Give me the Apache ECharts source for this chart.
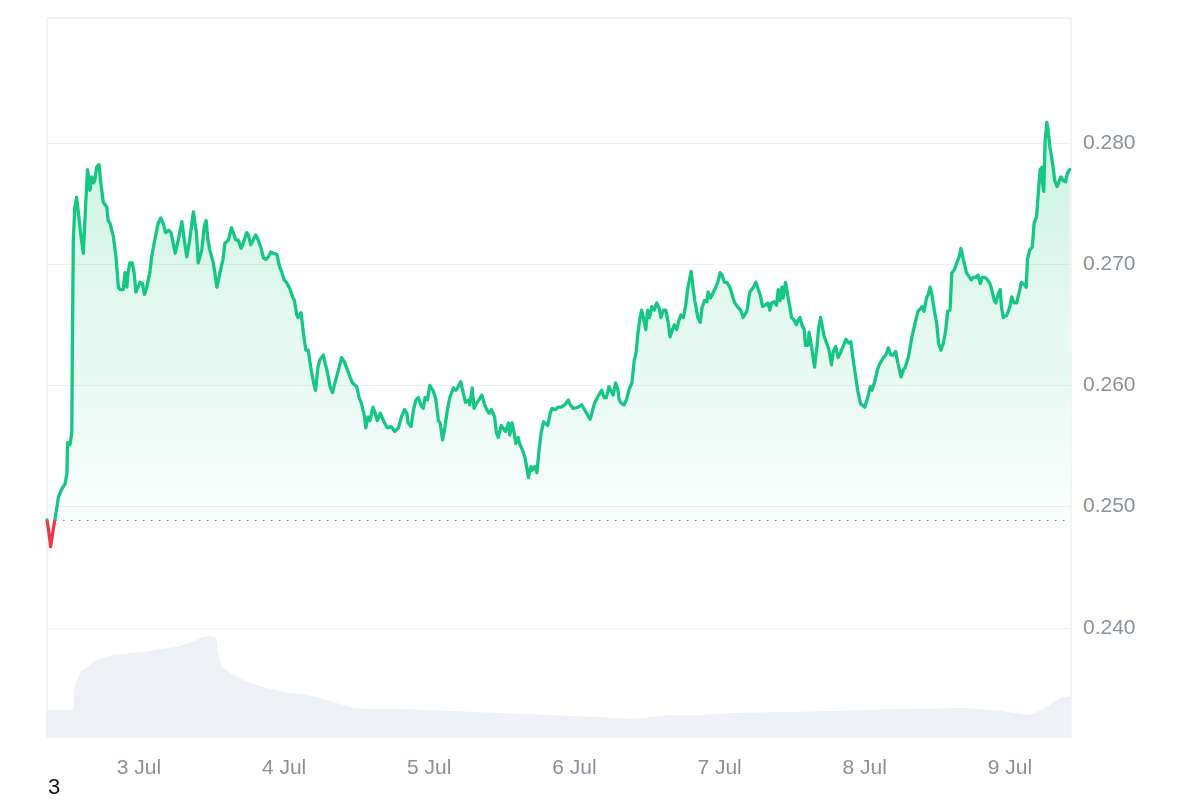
<!DOCTYPE html>
<html><head><meta charset="utf-8">
<script src="https://cdn.jsdelivr.net/npm/echarts@6/dist/echarts.min.js"></script>
<style>html,body{margin:0;padding:0;background:#fff}#c{width:1200px;height:800px}</style>
</head><body><div id="c"></div>
<script>
// hours after 2 Jul 08:48
const hours = [0,0.25,0.6,0.9,1.3,1.9,2.4,3.0,3.3,3.4,3.8,4.1,4.2,4.35,4.6,4.9,5.2,5.5,6.0,6.3,6.6,6.7,7.1,7.4,7.7,7.9,8.2,8.6,8.9,9.3,9.9,10.1,10.4,11.0,11.4,11.8,12.1,12.6,12.9,13.2,13.4,13.7,14.1,14.4,14.7,15.0,15.4,15.8,16.1,16.5,17.0,17.3,17.9,18.4,18.8,19.2,19.6,20.1,20.5,21.2,21.7,22.3,22.7,23.1,23.6,24.2,24.5,24.7,25.0,25.6,26.0,26.3,26.6,26.9,27.5,28.1,28.6,29.1,29.4,30.0,30.5,30.8,31.2,31.6,32.1,32.5,33.0,33.3,33.7,34.1,34.5,34.9,35.4,35.8,36.2,36.6,37.0,37.4,38.0,38.5,38.8,39.2,39.6,40.2,40.6,40.9,41.3,41.5,42.0,42.4,42.8,43.2,43.6,44.0,44.4,44.8,45.1,45.7,46.0,46.4,46.8,47.2,47.6,48.2,48.7,49.2,49.5,50.1,50.5,50.8,51.2,51.6,52.0,52.5,52.7,53.1,53.4,53.9,54.2,54.6,55.1,55.3,55.8,56.3,56.9,57.5,58.1,58.6,59.1,59.5,59.7,60.2,60.6,61.0,61.4,61.8,62.2,62.5,62.9,63.3,63.9,64.3,64.7,65.0,65.4,65.8,66.2,66.6,67.2,67.6,68.0,68.4,68.8,69.2,69.7,69.9,70.3,70.6,71.0,71.4,71.9,72.3,72.7,73.1,73.5,74.0,74.3,74.6,75.1,75.4,75.8,76.3,76.5,76.9,77.3,77.5,77.9,78.2,78.6,79.0,79.3,79.6,80.0,80.2,80.6,81.0,81.3,81.7,82.1,82.3,82.8,83.2,83.5,84.0,84.5,85.0,85.6,86.2,86.5,87.0,87.8,88.4,89.1,89.8,90.5,91.0,91.7,92.1,92.5,92.9,93.2,93.6,94.0,94.4,94.6,95.0,95.4,95.8,96.2,96.7,97.1,97.4,97.7,98.0,98.3,98.6,99.0,99.3,99.6,100.0,100.4,100.8,101.2,101.5,101.9,102.3,102.7,103.0,103.4,103.7,104.1,104.5,104.8,105.2,105.6,105.9,106.2,106.5,106.8,107.1,107.6,108.0,108.3,108.7,109.1,109.3,109.7,110.0,110.4,110.9,111.3,111.6,112.0,112.4,112.9,113.2,113.7,114.3,114.7,115.1,115.7,116.2,116.8,117.2,117.6,118.0,118.3,118.7,119.2,119.5,119.8,120.2,120.6,120.9,121.2,121.5,121.7,122.1,122.5,122.8,123.1,123.5,123.9,124.2,124.5,124.8,125.2,125.4,125.8,126.0,126.4,126.9,127.3,127.6,127.9,128.2,128.5,128.9,129.3,129.7,130.0,130.4,130.8,131.2,131.6,132.1,132.5,132.9,133.3,133.7,134.1,134.5,134.8,135.2,135.7,136.1,136.4,136.9,137.3,137.7,138.3,138.7,139.1,139.5,139.9,140.3,140.7,141.2,141.6,141.9,142.4,143.0,143.5,144.0,144.3,144.7,145.0,145.4,145.7,146.0,146.3,146.7,147.1,147.4,147.8,148.2,148.6,148.9,149.3,149.6,150.0,150.4,150.8,151.1,151.5,151.8,152.0,152.3,152.8,153.1,153.5,153.9,154.3,154.6,155.1,155.5,155.9,156.2,156.6,156.9,157.3,157.6,157.8,158.1,158.7,159.2,159.5,159.9,160.3,160.7,161.1,161.6,161.9,162.1,162.5,162.9,163.2,163.6,163.9,164.2,164.5,164.6,164.8,165.0,165.3,165.5,165.8,166.1,166.4,166.6,167.0,167.4,167.6,168.0,168.4,168.7,169.1];
const prices = [0.2489,0.2481,0.2467,0.2477,0.2489,0.2508,0.2514,0.2519,0.2528,0.2553,0.2551,0.2561,0.2638,0.2720,0.2747,0.2755,0.2742,0.2728,0.2709,0.2739,0.2769,0.2778,0.2761,0.2772,0.2767,0.2769,0.2780,0.2782,0.2767,0.2751,0.2747,0.2736,0.2734,0.2722,0.2706,0.2681,0.2679,0.2679,0.2693,0.2681,0.2693,0.2701,0.2701,0.2693,0.2677,0.2677,0.2685,0.2684,0.2675,0.2681,0.2693,0.2706,0.2722,0.2734,0.2738,0.2734,0.2726,0.2728,0.2726,0.2709,0.2720,0.2735,0.2720,0.2706,0.2720,0.2743,0.2742,0.2726,0.2701,0.2712,0.2731,0.2736,0.2720,0.2712,0.2701,0.2681,0.2693,0.2704,0.2717,0.2720,0.2730,0.2726,0.2720,0.2720,0.2713,0.2718,0.2726,0.2724,0.2716,0.2720,0.2724,0.2720,0.2713,0.2705,0.2704,0.2706,0.2710,0.2709,0.2708,0.2697,0.2694,0.2687,0.2685,0.2679,0.2673,0.2670,0.2658,0.2656,0.2660,0.2643,0.2629,0.2629,0.2615,0.2604,0.2596,0.2615,0.2621,0.2625,0.2618,0.2610,0.2599,0.2594,0.2602,0.2613,0.2623,0.2619,0.2615,0.2607,0.2602,0.2603,0.2599,0.2590,0.2585,0.2574,0.2565,0.2574,0.2571,0.2582,0.2578,0.2571,0.2577,0.2578,0.2569,0.2565,0.2566,0.2562,0.2565,0.2574,0.2580,0.2577,0.2569,0.2566,0.2580,0.2588,0.2590,0.2584,0.2581,0.2590,0.2588,0.2600,0.2595,0.2588,0.2571,0.2569,0.2555,0.2566,0.2580,0.2590,0.2598,0.2596,0.2599,0.2603,0.2594,0.2586,0.2588,0.2584,0.2598,0.2581,0.2585,0.2588,0.2592,0.2585,0.2580,0.2577,0.2580,0.2574,0.2561,0.2557,0.2567,0.2567,0.2562,0.2569,0.2559,0.2569,0.2559,0.2552,0.2557,0.2551,0.2547,0.2541,0.2533,0.2524,0.2533,0.2530,0.2533,0.2528,0.2544,0.2561,0.2570,0.2569,0.2567,0.2577,0.2581,0.2580,0.2582,0.2582,0.2584,0.2588,0.2584,0.2581,0.2582,0.2584,0.2578,0.2572,0.2585,0.2590,0.2596,0.2590,0.2590,0.2599,0.2599,0.2592,0.2602,0.2596,0.2588,0.2585,0.2584,0.2588,0.2596,0.2602,0.2621,0.2627,0.2643,0.2654,0.2662,0.2656,0.2646,0.2662,0.2656,0.2665,0.2662,0.2668,0.2664,0.2656,0.2662,0.2662,0.2652,0.2640,0.2646,0.2650,0.2646,0.2654,0.2658,0.2656,0.2666,0.2679,0.2680,0.2694,0.2681,0.2670,0.2656,0.2652,0.2664,0.2670,0.2669,0.2677,0.2672,0.2672,0.2679,0.2685,0.2693,0.2691,0.2685,0.2685,0.2681,0.2676,0.2668,0.2664,0.2662,0.2656,0.2661,0.2677,0.2681,0.2685,0.2679,0.2673,0.2665,0.2666,0.2668,0.2662,0.2668,0.2669,0.2666,0.2679,0.2670,0.2681,0.2672,0.2685,0.2673,0.2665,0.2656,0.2654,0.2650,0.2654,0.2656,0.2650,0.2646,0.2633,0.2633,0.2644,0.2632,0.2615,0.2632,0.2648,0.2656,0.2648,0.2640,0.2635,0.2629,0.2617,0.2628,0.2632,0.2623,0.2627,0.2632,0.2638,0.2635,0.2636,0.2621,0.2607,0.2594,0.2585,0.2586,0.2582,0.2590,0.2599,0.2596,0.2604,0.2613,0.2618,0.2623,0.2625,0.2631,0.2625,0.2625,0.2628,0.2618,0.2607,0.2613,0.2615,0.2623,0.2640,0.2651,0.2661,0.2660,0.2665,0.2661,0.2672,0.2675,0.2681,0.2675,0.2662,0.2651,0.2635,0.2629,0.2635,0.2646,0.2661,0.2662,0.2693,0.2695,0.2701,0.2706,0.2713,0.2704,0.2698,0.2693,0.2693,0.2687,0.2689,0.2689,0.2691,0.2684,0.2689,0.2689,0.2687,0.2684,0.2679,0.2670,0.2668,0.2676,0.2679,0.2665,0.2656,0.2658,0.2665,0.2673,0.2668,0.2668,0.2676,0.2685,0.2683,0.2681,0.2704,0.2712,0.2714,0.2734,0.2739,0.2759,0.2778,0.2780,0.2767,0.2760,0.2800,0.2817,0.2811,0.2797,0.2788,0.2778,0.2769,0.2764,0.2769,0.2772,0.2769,0.2768,0.2775,0.2778];
const volHours = [0,4.3,4.6,5.5,6.6,8.3,10.9,13.7,15.9,18.7,21.5,23.6,25.3,26.9,27.9,28.3,28.9,30.8,33.6,36.4,39.0,41.8,44.6,47.3,50.1,52.9,58.4,66.6,74.9,83.2,91.4,96.9,102.5,107.9,113.4,129.9,141.0,152.1,157.6,162.5,165.0,167.5,169.3];
const volumes = [27,27,52,65,70,77,82,84,85,88,90,94,99,101,100,84,70,62,54,49,45,43,40,35,30,28,28,26,24,22,20,18,22,22,24,26,28,29,26,22,29,39,41];
const baseline = 0.2489;
const dayNumbers = [3,4,5,6,7,8,9];
const dayLabels = ['3 Jul','4 Jul','5 Jul','6 Jul','7 Jul','8 Jul','9 Jul'];
const yTicks = [0.240,0.250,0.260,0.270,0.280];

const H = 3600000;
const start = new Date(2024,6,2,8,48).getTime();
const spanHours = 169.3;
const dayTicks = dayNumbers.map(d => (new Date(2024,6,d).getTime() - start) / H);
const FONT = '"Liberation Sans", Arial, sans-serif';
const GREY = '#8a919e';

function dayLabel(v) {
  for (let i = 0; i < dayTicks.length; i++) if (Math.abs(dayTicks[i] - v) < 0.01) return dayLabels[i];
  return '';
}

const chart = echarts.init(document.getElementById('c'));
chart.setOption({
  animation: false,
  backgroundColor: '#fff',
  grid: [
    {left:47, right:129, top:18, bottom:63, show:true, borderColor:'#e6e9ee', borderWidth:1},
    {left:47, right:129, top:617, bottom:63}
  ],
  xAxis: [
    {type:'value', gridIndex:0, min:0, max:spanHours,
     axisLine:{show:false}, axisTick:{show:false, customValues:dayTicks}, splitLine:{show:false},
     axisLabel:{customValues:dayTicks, formatter:dayLabel, color:GREY, fontSize:21, margin:21, fontFamily:FONT}},
    {type:'value', gridIndex:1, min:0, max:spanHours, show:false}
  ],
  yAxis: [
    {type:'value', gridIndex:0, position:'right', min:0.2310, max:0.2903,
     axisLine:{show:false}, axisTick:{show:false, customValues:yTicks},
     splitLine:{show:true, lineStyle:{color:'#eef0f3', width:1}},
     axisLabel:{customValues:yTicks, formatter:(v)=>v.toFixed(3), margin:12, color:GREY, fontSize:21, fontFamily:FONT}},
    {type:'value', gridIndex:1, min:0, max:120, show:false}
  ],
  visualMap: {type:'piecewise', show:false, seriesIndex:0, dimension:1,
    pieces:[{lt:baseline, color:'#ea3943'},{gte:baseline, lte:0.5, color:'#16c784'},{gt:0.5, color:'#16c784'}]},
  series: [
    {type:'line', xAxisIndex:0, yAxisIndex:0, z:3,
     data: hours.map((h,i)=>[h, prices[i]]),
     symbol:'none', lineStyle:{width:3.3, join:'round', cap:'round'},
     areaStyle:{origin:baseline, color:new echarts.graphic.LinearGradient(0,0,0,1,[
       {offset:0,color:'rgba(22,199,132,0.30)'},{offset:1,color:'rgba(22,199,132,0.02)'}])},
     markLine:{silent:true, symbol:'none', precision:4, label:{show:false},
       lineStyle:{color:'#7f8796', type:[1.5,6.5], width:1.2}, data:[{yAxis:baseline}]}},
    {type:'line', xAxisIndex:1, yAxisIndex:1, z:1, silent:true,
     data: volHours.map((h,i)=>[h, volumes[i]]),
     symbol:'none', lineStyle:{width:0}, itemStyle:{color:'#eef1f5'},
     areaStyle:{color:'#eef1f5', opacity:1}}
  ],
  graphic: [
    {type:'text', left:48, top:777, style:{text:'3', fontSize:22, fill:'#111', fontFamily:FONT}}
  ]
});
</script></body></html>
